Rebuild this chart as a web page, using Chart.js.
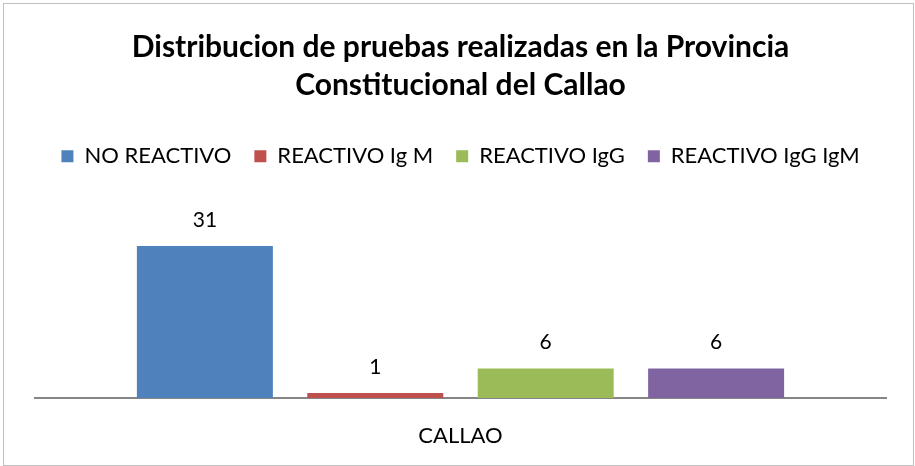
<!DOCTYPE html>
<html>
<head>
<meta charset="utf-8">
<script src="https://cdn.jsdelivr.net/npm/chart.js@4/dist/chart.umd.min.js"></script>
<style>
    body { margin: 0; background: #fff; }
    .frame {
        position: absolute; left: 3px; top: 3px; width: 909px; height: 461px;
        border: 1px solid #bfbfbf; background: #fff;
    }
    .wrap { position: absolute; left: 0; top: 0; width: 915px; height: 466px; }
</style>
</head>
<body>
<div class="frame"></div>
<div class="wrap"><canvas id="chart" width="915" height="466"></canvas></div>
<script>
const titleLines = ["Distribucion de pruebas realizadas en la Provincia", "Constitucional del Callao"];
const categories = ["CALLAO"];
const seriesNames = ["NO REACTIVO", "REACTIVO Ig M", "REACTIVO IgG", "REACTIVO IgG IgM"];
const seriesValues = [31, 1, 6, 6];
const seriesColors = ["#4f81bd", "#c0504d", "#9bbb59", "#8064a2"];

// draws the value above each bar
const valueLabels = {
    id: "valueLabels",
    afterDatasetsDraw(chart) {
        const ctx = chart.ctx;
        ctx.save();
        ctx.font = "21px Lato";
        ctx.fillStyle = "#000";
        ctx.textAlign = "center";
        ctx.textBaseline = "middle";
        chart.data.datasets.forEach((ds, i) => {
            chart.getDatasetMeta(i).data.forEach((bar, j) => {
                ctx.fillText(ds.data[j], bar.x, bar.y - 26);
            });
        });
        ctx.restore();
    }
};

const datasets = seriesNames.map((name, i) => ({
    label: name,
    data: [seriesValues[i]],
    backgroundColor: seriesColors[i],
    categoryPercentage: 0.801,
    barPercentage: 0.798
}));

new Chart(document.getElementById("chart"), {
    type: "bar",
    data: { labels: categories, datasets: datasets },
    plugins: [valueLabels],
    options: {
        responsive: false,
        animation: false,
        layout: { padding: { left: 35, right: 29, top: 28, bottom: 0 } },
        plugins: {
            title: {
                display: true,
                text: titleLines,
                color: "#000",
                font: { family: "Lato", size: 30, weight: "bold", lineHeight: 1.27 },
                padding: { top: 0, bottom: 18 }
            },
            legend: {
                position: "top",
                labels: {
                    color: "#000",
                    font: { family: "Lato", size: 22 },
                    boxWidth: 12,
                    boxHeight: 12,
                    padding: 23
                }
            },
            tooltip: { enabled: false }
        },
        scales: {
            x: {
                grid: { display: false, drawTicks: false },
                border: { color: "#868686", width: 2 },
                ticks: { color: "#000", font: { family: "Lato", size: 22 }, padding: 25 },
                afterFit: function (scale) { scale.height = 68; }
            },
            y: {
                display: false,
                min: 0,
                max: 45
            }
        }
    }
});
</script>
</body>
</html>
